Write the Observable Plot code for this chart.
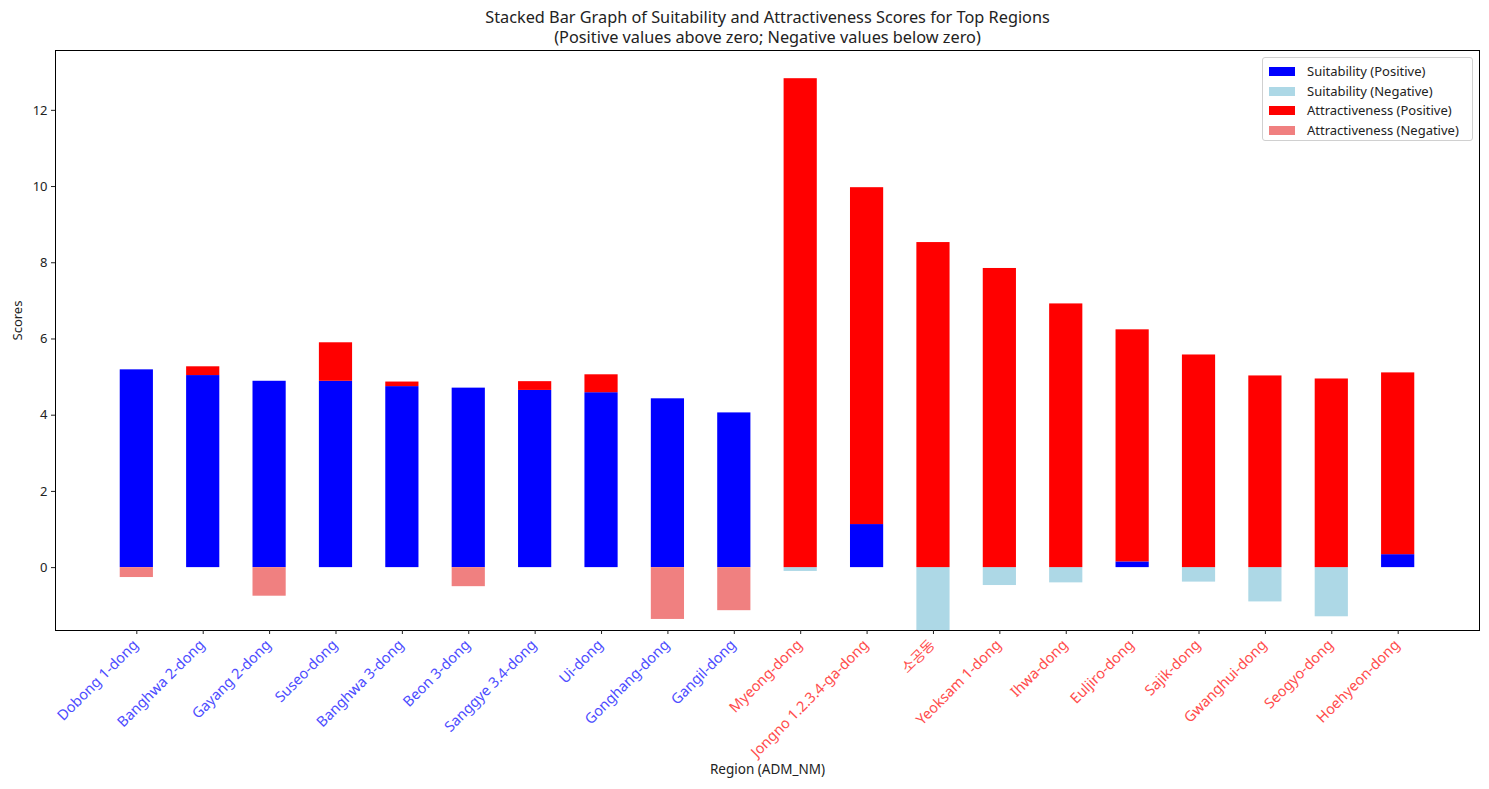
<!DOCTYPE html>
<html>
<head>
<meta charset="utf-8">
<script src="https://cdn.jsdelivr.net/npm/d3@7"></script>
<script src="https://cdn.jsdelivr.net/npm/@observablehq/plot@0.6"></script>
<style>
  body { margin: 0; background: #fff; font-family: "Noto Sans", "Noto Sans CJK KR", sans-serif; }
  #wrap { position: relative; width: 1489px; height: 789px; }
  #legend { position: absolute; left: 1262px; top: 57px; width: 209px; height: 82px;
    border: 1px solid #d0d0d0; border-radius: 3px; background: rgba(255,255,255,0.8);
    font-size: 13px; color: #222; }
  .item { position: absolute; left: 6px; height: 20px; line-height: 20px; white-space: nowrap; }
  .sw { display: inline-block; width: 26px; height: 9px; vertical-align: middle; margin-right: 12px; position: relative; top: -1px; }
</style>
</head>
<body>
<div id="wrap">
  <div id="chart"></div>
  <div id="legend"></div>
</div>
<script>
const regions = ["Dobong 1-dong","Banghwa 2-dong","Gayang 2-dong","Suseo-dong","Banghwa 3-dong","Beon 3-dong","Sanggye 3.4-dong","Ui-dong","Gonghang-dong","Gangil-dong","Myeong-dong","Jongno 1.2.3.4-ga-dong","소공동","Yeoksam 1-dong","Ihwa-dong","Euljiro-dong","Sajik-dong","Gwanghui-dong","Seogyo-dong","Hoehyeon-dong"];
const suitability = [5.19,5.04,4.89,4.89,4.75,4.71,4.65,4.59,4.43,4.06,-0.10,1.13,-1.70,-0.47,-0.40,0.15,-0.38,-0.90,-1.29,0.34];
const attractiveness = [-0.26,0.23,-0.75,1.01,0.12,-0.50,0.23,0.47,-1.36,-1.13,12.83,8.84,8.53,7.85,6.92,6.09,5.58,5.03,4.95,4.77];
const suitabilityRegions = regions.slice(0, 10);
const attractivenessRegions = regions.slice(10);
const yTicks = [0, 2, 4, 6, 8, 10, 12];
const seriesNames = ["Suitability (Positive)","Suitability (Negative)","Attractiveness (Positive)","Attractiveness (Negative)"];
const seriesColors = ["#0000ff","#add8e6","#ff0000","#f08080"];

const rows = regions.map((r, i) => {
  const sp = Math.max(suitability[i], 0), sn = Math.min(suitability[i], 0);
  const ap = Math.max(attractiveness[i], 0), an = Math.min(attractiveness[i], 0);
  return {region: r, sp, sn, ap, an};
});

const font = '"Noto Sans", "Noto Sans CJK KR", sans-serif';

const plot = Plot.plot({
  width: 1489,
  height: 789,
  marginLeft: 55,
  marginRight: 10,
  marginTop: 50,
  marginBottom: 159,
  style: {fontFamily: font, fontSize: "13px", background: "white", color: "#222"},
  x: {type: "band", domain: regions, paddingInner: 0.5, paddingOuter: 0.975, align: 0.5, round: false, axis: null},
  y: {domain: [-1.65, 13.57], axis: null},
  marks: [
    Plot.barY(rows, {x: "region", y1: 0, y2: "sp", fill: seriesColors[0], clip: true}),
    Plot.barY(rows, {x: "region", y1: 0, y2: "sn", fill: seriesColors[1], clip: true}),
    Plot.barY(rows, {x: "region", y1: "sp", y2: d => d.sp + d.ap, fill: seriesColors[2], clip: true}),
    Plot.barY(rows, {x: "region", y1: "sn", y2: d => d.sn + d.an, fill: seriesColors[3], clip: true}),
    Plot.frame({stroke: "black", strokeWidth: 1}),
    Plot.axisY({ticks: yTicks, tickSize: 4, tickPadding: 4, fontSize: 13, label: null, tickFormat: d => String(d)}),
    Plot.axisX({tickSize: 4, tickFormat: () => "", label: null}),
    Plot.text(suitabilityRegions, {x: d => d, frameAnchor: "bottom", dy: 12, dx: -1, rotate: -45, textAnchor: "end", lineAnchor: "middle", fill: "#4d4dff", fontSize: 14.5}),
    Plot.text(attractivenessRegions, {x: d => d, frameAnchor: "bottom", dy: 12, dx: -1, rotate: -45, textAnchor: "end", lineAnchor: "middle", fill: "#ff4d4d", fontSize: 14.5}),
    Plot.text(["Scores"], {frameAnchor: "left", dx: -38, rotate: -90, fontSize: 13, fill: "#222"}),
    Plot.text(["Region (ADM_NM)"], {frameAnchor: "bottom", dy: 143, fontSize: 13.5, fill: "#222"}),
    Plot.text(["Stacked Bar Graph of Suitability and Attractiveness Scores for Top Regions"], {frameAnchor: "top", dy: -33, lineAnchor: "middle", fontSize: 16.3, fill: "#222"}),
    Plot.text(["(Positive values above zero; Negative values below zero)"], {frameAnchor: "top", dy: -13, lineAnchor: "middle", fontSize: 16.3, fill: "#222"})
  ]
});
document.getElementById("chart").appendChild(plot);

const legend = document.getElementById("legend");
seriesNames.forEach((name, i) => {
  const div = document.createElement("div");
  div.className = "item";
  div.style.top = (3 + i * 19.7) + "px";
  div.innerHTML = `<span class="sw" style="background:${seriesColors[i]}"></span>${name}`;
  legend.appendChild(div);
});
</script>
</body>
</html>
